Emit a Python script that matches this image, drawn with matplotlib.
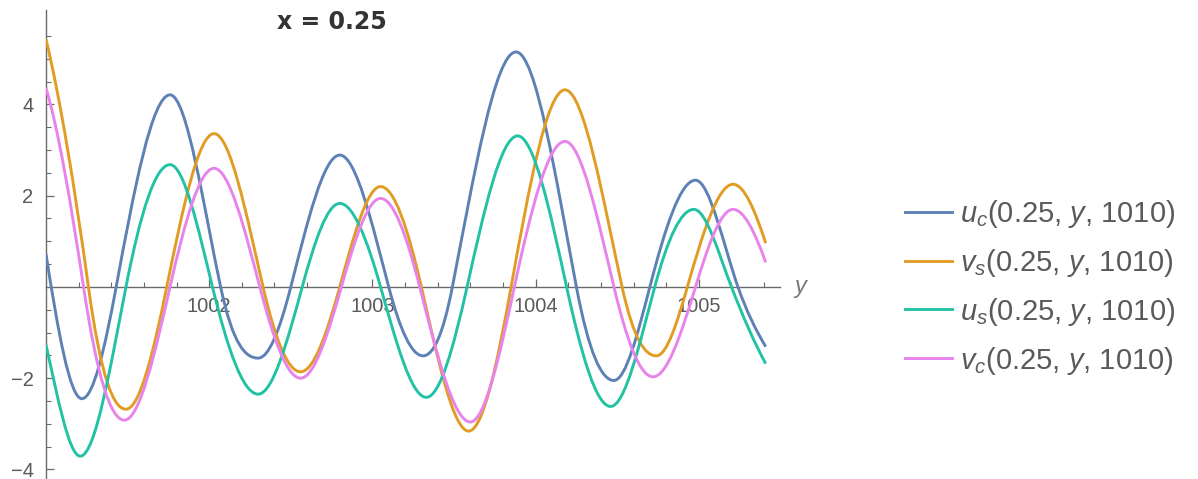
import numpy as np
import matplotlib
matplotlib.use("Agg")
import matplotlib.pyplot as plt
from matplotlib.path import Path
from matplotlib.patches import PathPatch
from matplotlib.lines import Line2D
from matplotlib.ticker import FixedLocator

plt.rcParams['font.family'] = ['Liberation Sans', 'DejaVu Sans']
plt.rcParams['mathtext.fontset'] = 'custom'
plt.rcParams['mathtext.it'] = 'Liberation Sans:italic'
plt.rcParams['mathtext.rm'] = 'Liberation Sans'

# ---- data: key points (start, extrema, zero crossings, end) ----
uc_x = [1001.00, 1001.22, 1001.43, 1001.76, 1002.07, 1002.30, 1002.50, 1002.80, 1003.10,
        1003.31, 1003.49, 1003.88, 1004.25, 1004.48, 1004.70, 1004.98, 1005.24, 1005.41]
uc_y = [0.72, -2.45, 0.0, 4.21, 0.0, -1.56, 0.0, 2.89, 0.0,
        -1.51, 0.0, 5.15, 0.0, -2.05, 0.0, 2.34, 0.0, -1.31]

vs_x = [1001.00, 1001.26, 1001.49, 1001.74, 1002.03, 1002.33, 1002.56, 1002.80, 1003.05,
        1003.30, 1003.59, 1003.85, 1004.18, 1004.53, 1004.74, 1004.93, 1005.21, 1005.41]
vs_y = [5.43, 0.0, -2.68, 0.0, 3.36, 0.0, -1.86, 0.0, 2.20,
        0.0, -3.16, 0.0, 4.32, 0.0, -1.51, 0.0, 2.25, 0.96]

us_x = [1001.00, 1001.21, 1001.49, 1001.76, 1002.02, 1002.30, 1002.57, 1002.80, 1003.05,
        1003.33, 1003.58, 1003.89, 1004.19, 1004.46, 1004.73, 1004.97, 1005.20, 1005.41]
us_y = [-1.27, -3.71, 0.0, 2.68, 0.0, -2.35, 0.0, 1.83, 0.0,
        -2.42, 0.0, 3.31, 0.0, -2.62, 0.0, 1.70, 0.0, -1.68]

vc_x = [1001.00, 1001.23, 1001.48, 1001.76, 1002.03, 1002.31, 1002.56, 1002.81, 1003.05,
        1003.29, 1003.60, 1003.87, 1004.18, 1004.48, 1004.72, 1004.98, 1005.21, 1005.41]
vc_y = [4.36, 0.0, -2.92, 0.0, 2.60, 0.0, -2.00, 0.0, 1.94,
        0.0, -2.96, 0.0, 3.19, 0.0, -1.97, 0.0, 1.70, 0.54]

# slopes read at the first and last point of each curve
start_slopes = [-23.0, -15.0, -16.0, -12.0]
end_slopes = [-6.0, -11.0, -6.5, -10.0]

labels = [r'$u_c$(0.25, $y$, 1010)', r'$v_s$(0.25, $y$, 1010)',
          r'$u_s$(0.25, $y$, 1010)', r'$v_c$(0.25, $y$, 1010)']
colors = ['#5e81b5', '#e19c24', '#22c2a4', '#e983ec']

x_major = [1002, 1003, 1004, 1005]
y_major = [-4, -2, 2, 4]
title = 'x = 0.25'


def smooth_path(xs, ys, s0, s1):
    """Cubic Bezier path through the read key points (flat tangents at extrema)."""
    n = len(xs)
    m = []
    for i in range(n):
        if i == 0:
            m.append(s0)
        elif i == n - 1:
            m.append(s1)
        elif ys[i] == 0.0:
            f = 1.2 if i == n - 2 else np.pi / 2
            m.append(f * (ys[i + 1] - ys[i - 1]) / (xs[i + 1] - xs[i - 1]))
        else:
            m.append(0.0)
    verts = [(xs[0], ys[0])]
    codes = [Path.MOVETO]
    for i in range(n - 1):
        L = xs[i + 1] - xs[i]
        verts += [(xs[i] + L / 3, ys[i] + m[i] * L / 3),
                  (xs[i + 1] - L / 3, ys[i + 1] - m[i + 1] * L / 3),
                  (xs[i + 1], ys[i + 1])]
        codes += [Path.CURVE4] * 3
    return Path(verts, codes)


fig = plt.figure(figsize=(11.98, 4.79), dpi=100)
ax = fig.add_axes([46 / 1198, 0.0, (780.4 - 46) / 1198, 469 / 479])
ax.set_xlim(1001.0, 1005.5)
ax.set_ylim(-4.21, 6.07)

series = [(uc_x, uc_y), (vs_x, vs_y), (us_x, us_y), (vc_x, vc_y)]
for k, (xs, ys) in enumerate(series):
    p = smooth_path(xs, ys, start_slopes[k], end_slopes[k])
    ax.add_patch(PathPatch(p, fill=False, edgecolor=colors[k], lw=2.1,
                           joinstyle='round', capstyle='butt', zorder=3))

# axes styling (Mathematica-like)
axc = '#6a6a6a'
for s in ['top', 'right']:
    ax.spines[s].set_visible(False)
ax.spines['bottom'].set_position(('data', 0))
ax.spines['left'].set_position(('data', 1001.0))
for s in ['bottom', 'left']:
    ax.spines[s].set_color(axc)
    ax.spines[s].set_linewidth(1.0)

ax.xaxis.set_major_locator(FixedLocator(x_major))
x_minor = [v for v in np.round(np.arange(1001.2, 1005.41, 0.2), 1) if v not in x_major]
ax.xaxis.set_minor_locator(FixedLocator(x_minor))
ax.yaxis.set_major_locator(FixedLocator(y_major))
y_minor = [v for v in np.arange(-4.0, 5.51, 0.5) if v not in y_major and v != 0]
ax.yaxis.set_minor_locator(FixedLocator(y_minor))
ax.set_xticklabels([str(v) for v in x_major])
ax.set_yticklabels(['\u22124', '\u22122', '2', '4'])

ax.tick_params(axis='both', which='major', direction='in', length=6, width=0.9,
               color=axc, labelcolor='#5a5a5a', labelsize=14.5)
ax.tick_params(axis='both', which='minor', direction='in', length=3.5, width=0.8, color=axc)
ax.tick_params(axis='x', which='major', pad=7)
ax.tick_params(axis='y', which='major', pad=9)
for t in ax.get_xticklabels():
    t.set_zorder(1)

ax.annotate('y', xy=(1005.5, 0), xytext=(10, 0), textcoords='offset points',
            ha='left', va='center', fontsize=17, color='#777777', style='italic',
            annotation_clip=False)

fig.text(332 / 1198, 1 - 22 / 479, title, ha='center', va='center',
         fontsize=17, fontweight='bold', color='#333333', family='DejaVu Sans')

handles = [Line2D([], [], color=c, lw=2.1) for c in colors]
leg = fig.legend(handles, labels, loc='center left',
                 bbox_to_anchor=(905 / 1198, 1 - 287.2 / 479),
                 frameon=False, fontsize=21, handlelength=1.6,
                 handletextpad=0.27, labelspacing=0.58, borderpad=0, borderaxespad=0)
for t in leg.get_texts():
    t.set_color('#5a5a5a')

fig.savefig('out.png', dpi=100)
